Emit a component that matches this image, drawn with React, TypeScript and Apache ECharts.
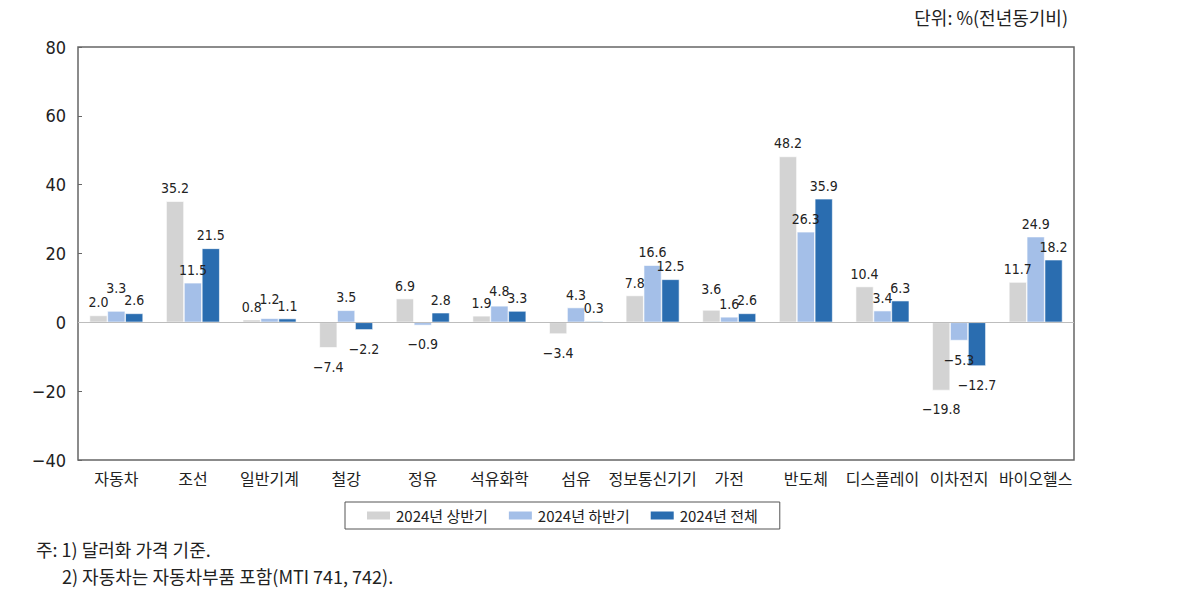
import React, { useEffect, useRef } from "react";
import * as echarts from "echarts";

const categories = ["자동차", "조선", "일반기계", "철강", "정유", "석유화학", "섬유", "정보통신기기", "가전", "반도체", "디스플레이", "이차전지", "바이오헬스"];
const firstHalf = [2.0, 35.2, 0.8, -7.4, 6.9, 1.9, -3.4, 7.8, 3.6, 48.2, 10.4, -19.8, 11.7];
const secondHalf = [3.3, 11.5, 1.2, 3.5, -0.9, 4.8, 4.3, 16.6, 1.6, 26.3, 3.4, -5.3, 24.9];
const fullYear = [2.6, 21.5, 1.1, -2.2, 2.8, 3.3, 0.3, 12.5, 2.6, 35.9, 6.3, -12.7, 18.2];
const seriesNames = ["2024년 상반기", "2024년 하반기", "2024년 전체"];
const colors = ["#d3d3d3", "#a4bfe8", "#2a6db0"];

const NUMFONT = "'DejaVu Sans Condensed', 'Liberation Sans Narrow', 'Noto Sans CJK KR', sans-serif";
const FONT = "'Noto Sans CJK KR', 'Noto Sans', sans-serif";
const fmt = (v: number) => (v < 0 ? "\u2212" + Math.abs(v).toFixed(1) : v.toFixed(1));

// label lifts (px) per series, per category, to keep crowded labels apart
const liftFirst = [0, 0, 0, 0, 0, 0, 0, 0, 8, 0, 0, 0, 0];
const liftSecond = [10, 0, 6, 0, 0, 2, 0, 0, 0, 0, 0, 0, 0];
const liftThird = [0, 0, 0, 0, 0, 0, 0, 0, 0, 0, 0, 0, 0];

export default function App() {
  const ref = useRef<HTMLDivElement>(null);
  useEffect(() => {
    if (!ref.current) return;
    const chart = echarts.init(ref.current, null, { renderer: "svg" });
    const mk = (name: string, data: number[], color: string, lift: number[], i: number) => ({
      name,
      type: "bar",
      barGap: "0%",
      barCategoryGap: "30%",
      itemStyle: { color, borderColor: "#fff", borderWidth: 0.6 },
      data: data.map((v, k) => ({
        value: v,
        label: {
          position: v < 0 ? "bottom" : "top",
          distance: v < 0 ? 12 : 6,
          offset: [0, -lift[k]],
        },
      })),
      label: {
        show: true,
        fontFamily: NUMFONT,
        fontSize: 14,
        color: "#222",
        formatter: (p: any) => fmt(p.value),
      },
      markLine:
        i === 0
          ? {
              silent: true,
              symbol: "none",
              label: { show: false },
              lineStyle: { color: "#bdbdbd", type: "solid", width: 1 },
              data: [{ yAxis: 0 }],
            }
          : undefined,
    });
    chart.setOption({
      animation: false,
      textStyle: { fontFamily: FONT },
      grid: {
        left: 78,
        right: 126,
        top: 47,
        bottom: 138,
        show: true,
        borderColor: "#666",
        borderWidth: 1.5,
        containLabel: false,
      },
      legend: {
        data: seriesNames,
        left: 345,
        top: 502,
        itemWidth: 25,
        itemHeight: 10,
        itemGap: 19,
        padding: [6, 22, 6, 20],
        borderColor: "#555",
        borderWidth: 1,
        textStyle: { fontFamily: FONT, fontSize: 15, color: "#222" },
        icon: "rect",
      },
      xAxis: {
        type: "category",
        data: categories,
        axisLine: { show: false },
        axisTick: { show: false },
        axisLabel: { interval: 0, fontFamily: FONT, fontSize: 16, color: "#222", margin: 10 },
      },
      yAxis: {
        type: "value",
        min: -40,
        max: 80,
        interval: 20,
        axisLine: { show: false },
        axisTick: { show: true, inside: true, length: 4, lineStyle: { color: "#666" } },
        splitLine: { show: false },
        axisLabel: {
          fontFamily: NUMFONT,
          fontSize: 18,
          color: "#222",
          margin: 12,
          formatter: (v: number) => (v < 0 ? "\u2212" + Math.abs(v) : String(v)),
        },
      },
      graphic: [
        {
          type: "text",
          right: 132,
          top: 8,
          style: { text: "단위: %(전년동기비)", fontFamily: FONT, fontSize: 18, fill: "#222" },
        },
        {
          type: "text",
          left: 36,
          top: 540,
          style: { text: "주: 1) 달러화 가격 기준.", fontFamily: FONT, fontSize: 18, fill: "#222" },
        },
        {
          type: "text",
          left: 62,
          top: 567,
          style: { text: "2) 자동차는 자동차부품 포함(MTI 741, 742).", fontFamily: FONT, fontSize: 18, fill: "#222" },
        },
      ],
      series: [
        mk(seriesNames[0], firstHalf, colors[0], liftFirst, 0),
        mk(seriesNames[1], secondHalf, colors[1], liftSecond, 1),
        mk(seriesNames[2], fullYear, colors[2], liftThird, 2),
      ],
    });
    return () => chart.dispose();
  }, []);
  return (
    <div
      ref={ref}
      style={{ position: "fixed", left: 0, top: 0, width: 1200, height: 598, background: "#fff" }}
    />
  );
}
